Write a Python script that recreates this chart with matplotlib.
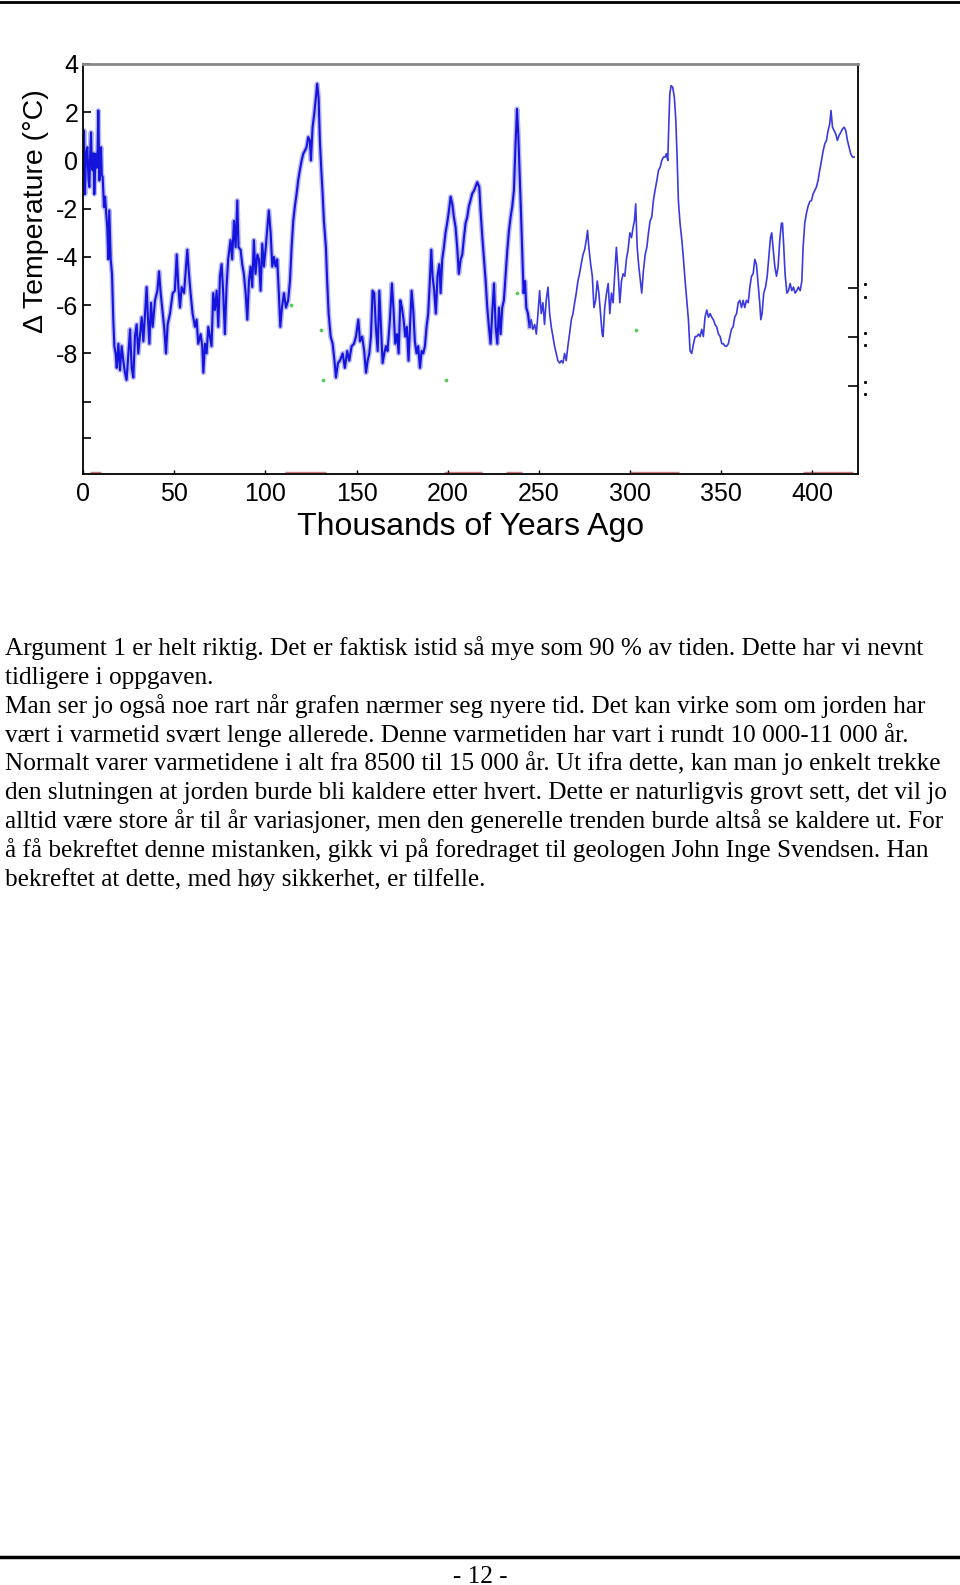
import matplotlib
matplotlib.use("Agg")
import matplotlib.pyplot as plt
from matplotlib.lines import Line2D

# Vostok-style temperature record (kyr ago, deg C)
age_kyr = [
    0.2, 0.55, 1.1, 1.7, 2.4, 3.0, 3.5, 4.0, 4.4, 4.8, 5.3, 5.8, 6.2, 6.6, 7.1, 7.6, 8.0, 8.4, 9.0, 9.4,
    9.9, 10.3, 10.8, 11.5, 12.1, 12.6, 13.3, 13.9, 14.4, 15.2, 15.9, 16.6, 17.2, 17.9, 18.5, 19.4, 20.3, 21.2,
    22.1, 23.0, 23.9, 24.9, 25.8, 26.7, 27.6, 28.5, 29.4, 30.3, 31.3, 32.2, 33.1, 34.0, 34.9, 35.5, 36.4,
    37.3, 38.2, 39.5, 40.8, 41.7, 42.6, 43.7, 44.6, 45.5, 46.4, 47.7, 49.2, 50.4, 51.4, 52.3, 53.2, 54.1,
    55.4, 56.5, 57.2, 58.1, 59.0, 60.1, 61.4, 62.3, 63.2, 64.5, 65.4, 66.0, 66.9, 67.8, 68.7,
    70.5, 71.4, 72.3, 73.3, 74.2, 75.1, 76.0, 76.9, 77.8, 78.7, 79.6, 80.9, 81.8, 82.8, 83.7, 84.6, 85.3,
    86.4, 87.3, 88.2, 89.2, 90.1, 91.0, 91.9, 92.8, 93.7, 94.6, 95.6, 96.5, 97.4, 98.3, 99.2, 100.1, 101.0,
    101.9, 102.9, 103.8, 104.7, 105.6, 106.5, 107.4, 108.2, 109.1, 110.2, 111.3, 112.5, 113.5, 114.4, 115.3,
    116.2, 117.1, 118.0, 118.9, 119.9, 120.8, 121.7, 122.6, 123.5, 124.4, 125.0, 125.9, 126.8, 127.7, 128.4,
    129.2, 129.9, 130.6, 131.4, 132.1, 133.2, 133.9, 134.7, 135.8, 136.9, 137.9, 138.7, 139.8,
    140.9, 142.4, 143.6, 144.9, 146.0, 147.3, 148.6, 149.7, 151.0, 151.9, 153.1, 154.2, 155.2, 156.1, 157.0,
    157.9, 158.8, 159.7, 160.6, 161.6, 162.5, 163.4, 164.3, 165.2, 166.1, 167.0, 168.3, 169.4, 170.3, 171.2,
    172.2, 173.1, 174.0, 174.9, 175.8, 176.7, 177.6, 178.5, 179.5, 180.2, 181.1, 182.0, 182.9, 183.8, 184.8,
    185.7, 186.6, 187.5, 188.4, 189.3, 190.2, 191.0, 191.7, 192.6, 193.5, 194.4, 195.4, 196.1, 197.0, 197.9,
    198.8, 199.7, 200.7, 201.6, 202.5, 203.4, 204.3, 205.2, 206.1, 207.1, 208.0, 208.9, 209.8, 210.7, 211.6,
    212.5, 213.4, 214.5,
    216.2, 217.3, 218.0, 219.0, 219.9, 220.8, 221.7, 222.6, 223.5, 224.4, 225.4, 226.3, 227.2, 228.1, 229.0,
    229.9, 230.8, 231.8, 232.7, 233.6, 234.5, 235.4, 236.3, 237.2, 238.0, 238.7, 239.4, 240.2, 240.9, 241.6,
    242.4, 243.1, 244.0, 244.9, 245.8, 246.7, 247.7, 248.6, 249.5, 250.4, 251.3, 252.2, 253.1, 254.0, 255.0,
    255.9, 256.8, 257.7, 258.6, 259.5, 260.4, 261.4, 262.3, 263.2, 264.1, 265.0, 265.9, 266.8, 267.8, 268.7,
    269.6, 270.5, 271.4, 272.3, 273.2, 274.2, 275.1, 276.0, 276.7, 277.4, 278.4, 279.3, 280.2, 281.1, 282.0,
    282.9, 283.8, 284.7,
    285.2, 286.1, 287.1, 288.0, 288.9, 289.8, 290.7, 291.6, 292.5, 293.5, 294.4, 295.3, 296.2, 297.1, 298.0,
    298.9, 299.9, 300.8, 301.7, 302.4, 303.1, 303.9, 304.8, 305.7, 306.4, 307.3, 308.3, 309.2, 310.1, 311.0,
    311.9, 312.8, 313.7, 314.7, 315.6, 316.5, 317.4, 318.3, 319.2, 319.9, 320.7, 321.2, 321.8, 322.5, 323.4,
    324.3, 325.1, 325.8, 326.5, 327.4, 328.4, 329.3, 330.2, 331.1, 332.0, 332.9, 333.8, 334.8, 335.7, 336.6,
    337.5, 338.4, 339.3, 340.2, 341.1, 342.1, 343.0, 343.9, 344.8, 345.7, 346.6, 347.5, 348.5, 349.4, 350.3,
    351.2, 352.1, 353.0, 353.9,
    355.6, 356.5, 357.4, 358.4, 359.3, 360.2, 361.1, 362.0, 362.9, 363.8, 364.8, 365.7, 366.6, 367.5, 368.4,
    369.3, 370.2, 371.1, 371.7, 372.4, 373.3, 374.3, 375.2, 376.1, 377.0, 377.7, 378.5, 379.4, 380.3, 381.2,
    382.1, 383.0, 383.6, 384.3, 385.0, 386.0, 386.9, 387.8, 388.7, 389.6, 390.5, 391.4, 392.3, 393.3, 394.2,
    394.9, 395.8, 396.7, 397.6, 398.6, 399.5, 400.4, 401.3, 402.2, 403.1, 404.0, 405.0, 405.9, 406.8, 407.7,
    408.6, 409.5, 410.2, 411.0, 411.9, 412.8, 413.7, 414.6, 415.6, 416.5, 417.4, 418.3, 419.2, 420.1, 421.0,
    422.0, 422.9,
]
dtemp = [
    -0.4, 1.24, -1.4, 0.3, 0.55, -0.8, -1.1, 0.4, 1.17, -0.2, -0.41, 0.3, -1.4, -0.5, 0.28, -0.3, 0.4, 2.07, -0.83, 0.2,
    0.55, -0.6, -0.69, -1.93, -1.5, -2.07, -2.76, -4.1, -2.07, -4.1, -4.7, -6.6, -7.7, -8.0, -8.6, -7.6, -8.7, -7.7,
    -8.3, -8.8, -9.1, -8.0, -7.0, -8.6, -9.0, -7.3, -6.8, -8.0, -7.2, -6.5, -7.5, -6.35, -5.25, -6.35, -7.6,
    -5.9, -6.9, -5.8, -5.4, -4.6, -5.5, -6.35, -7.0, -8.0, -6.8, -6.35, -5.5, -5.4, -3.9, -5.25, -6.1, -5.25,
    -5.5, -4.4, -3.7, -4.7, -5.5, -6.35, -6.9, -6.6, -7.6, -7.2, -7.7, -8.8, -7.6, -8.0, -6.9,
    -7.7, -5.5, -6.2, -5.4, -6.9, -4.8, -4.3, -5.5, -7.2, -5.25, -4.1, -3.3, -4.1, -2.5, -3.6, -1.66, -3.6,
    -3.7, -4.3, -4.7, -5.5, -6.6, -5.0, -4.4, -5.25, -3.3, -4.7, -3.9, -4.1, -5.4, -3.45, -4.4, -3.7, -2.9,
    -2.07, -3.0, -4.4, -4.0, -4.4, -4.1, -5.5, -6.9, -6.1, -5.5, -6.1, -5.8, -5.0, -3.6, -2.5,
    -1.9, -1.4, -0.83, -0.41, 0.0, 0.28, 0.41, 0.55, 0.97, 0.83, 0.0, 1.38, 1.93, 2.6, 3.18,
    2.6, 0.83, -0.28, -1.38, -2.5, -3.6, -5.0, -6.35, -7.3, -7.6, -8.3, -9.0, -8.4,
    -8.3, -8.0, -8.6, -7.9, -8.3, -7.7, -7.6, -7.3, -6.6, -7.5, -7.3, -7.9, -8.8, -8.3, -8.0,
    -7.3, -5.4, -5.5, -6.9, -7.9, -5.4, -6.9, -8.4, -8.0, -7.7, -7.9, -6.6, -5.1, -6.2, -7.6,
    -7.2, -8.0, -5.8, -6.1, -6.6, -7.3, -6.9, -8.3, -6.6, -5.4, -6.2, -7.5, -8.0, -7.7, -8.6,
    -7.9, -8.0, -7.7, -6.9, -6.35, -5.0, -3.7, -4.8, -5.4, -6.35, -4.8, -4.3, -5.5, -4.1, -3.6,
    -3.0, -2.6, -2.07, -1.5, -1.8, -2.35, -2.76, -3.6, -4.7, -4.1, -3.9, -3.2, -2.6, -2.35, -1.9,
    -1.66, -1.38, -1.24,
    -0.9, -1.1, -2.07, -3.2, -4.1, -5.0, -6.1, -6.9, -7.6, -6.35, -5.1, -6.9, -7.6, -6.1, -7.2,
    -6.1, -5.8, -4.7, -3.7, -2.9, -2.35, -1.9, -1.24, 0.69, 2.14, 1.1, -0.41, -2.2, -3.9, -5.5,
    -5.0, -6.1, -6.35, -6.9, -6.6, -7.0, -6.8, -7.2, -6.35, -5.4, -6.35, -5.9, -6.8, -5.8, -5.25,
    -6.35, -6.9, -7.3, -7.7, -8.0, -8.3, -8.4, -8.3, -8.4, -8.0, -8.3, -7.7, -7.2, -6.6, -6.35,
    -5.9, -5.5, -5.0, -4.7, -4.3, -3.9, -3.7, -3.3, -2.9, -3.6, -4.3, -4.8, -6.1, -5.8, -5.0,
    -5.5, -6.35, -7.2,
    -7.3, -6.1, -5.5, -5.1, -6.35, -5.5, -5.9, -4.7, -3.6, -4.7, -5.9, -5.0, -4.7, -4.8, -4.1,
    -3.7, -3.0, -3.2, -2.76, -2.5, -1.8, -3.6, -4.4, -5.0, -5.5, -4.6, -3.9, -3.6, -3.0, -2.5,
    -2.35, -1.66, -1.24, -0.83, -0.41, -0.28, 0.0, 0.14, 0.14, 0.28, 0.0, 1.38, 2.76, 3.1, 3.04,
    2.6, 1.66, 0.14, -1.66, -2.6, -3.3, -4.1, -5.0, -5.8, -6.6, -7.9, -8.0, -7.6, -7.3, -7.3,
    -7.2, -7.3, -7.0, -7.3, -6.5, -6.2, -6.5, -6.35, -6.5, -6.6, -6.8, -6.9, -7.2, -7.3, -7.6,
    -7.6, -7.7, -7.7, -7.6,
    -7.0, -6.9, -6.5, -6.35, -5.9, -5.8, -6.1, -5.8, -6.1, -5.8, -5.9, -5.25, -4.8, -4.7, -4.1,
    -4.3, -5.1, -5.9, -6.6, -6.35, -5.5, -5.25, -4.8, -4.0, -3.2, -3.0, -3.7, -4.4, -4.8, -4.4,
    -3.3, -2.6, -2.6, -3.6, -4.7, -5.5, -5.4, -5.1, -5.4, -5.25, -5.5, -5.4, -5.25, -5.4, -5.0,
    -3.6, -2.6, -2.2, -1.9, -1.7, -1.66, -1.38, -1.24, -1.1, -0.83, -0.41, 0.0, 0.41, 0.69, 0.83,
    1.24, 1.52, 2.07, 1.38, 1.24, 1.1, 0.83, 1.04, 1.17, 1.31, 1.38, 1.24, 0.83, 0.55, 0.28,
    0.14, 0.14,
]

# stray green points and the clipped red trace along the bottom
green_age = [114, 130.5, 131.5, 199, 238, 303]
green_temp = [-6.0, -7.05, -9.1, -9.1, -5.5, -7.05]
red_start = [4, 111, 198, 232, 300, 395]
red_end = [10, 133, 219, 241, 327, 422]

x_ticks = [0, 50, 100, 150, 200, 250, 300, 350, 400]
y_ticks = [4, 2, 0, -2, -4, -6, -8, -10, -11.5]
y_ticklabels = ["4", "2", "0", "-2", "-4", "-6", "-8", "", ""]
right_ticks = [-5.3, -7.33, -9.37]
right_dots = [-5.14, -5.68, -7.17, -7.67, -9.2, -9.7]

paragraph = [
    "Argument 1 er helt riktig. Det er faktisk istid så mye som 90 % av tiden. Dette har vi nevnt",
    "tidligere i oppgaven.",
    "Man ser jo også noe rart når grafen nærmer seg nyere tid. Det kan virke som om jorden har",
    "vært i varmetid svært lenge allerede. Denne varmetiden har vart i rundt 10 000-11 000 år.",
    "Normalt varer varmetidene i alt fra 8500 til 15 000 år. Ut ifra dette, kan man jo enkelt trekke",
    "den slutningen at jorden burde bli kaldere etter hvert. Dette er naturligvis grovt sett, det vil jo",
    "alltid være store år til år variasjoner, men den generelle trenden burde altså se kaldere ut. For",
    "å få bekreftet denne mistanken, gikk vi på foredraget til geologen John Inge Svendsen. Han",
    "bekreftet at dette, med høy sikkerhet, er tilfelle.",
]

W, H = 960, 1585
sans = "Liberation Sans"
serif = "Liberation Serif"
body_size = 18.2

fig = plt.figure(figsize=(W / 100, H / 100), dpi=100)
ax = fig.add_axes([83 / W, 1 - 474 / H, 775 / W, 410 / H])

# the older, high-resolution part of the record reads as a thick fuzzy band
n_dense = sum(1 for a in age_kyr if a < 245)
ax.plot(age_kyr[:n_dense], dtemp[:n_dense], color="#7f7ff0", lw=3.6, alpha=0.55,
        solid_joinstyle="round")
ax.plot(age_kyr[:n_dense], dtemp[:n_dense], color="#1414dc", lw=1.5)
ax.plot(age_kyr[n_dense - 1:], dtemp[n_dense - 1:], color="#3a3ae0", lw=1.2)
ax.scatter(green_age, green_temp, s=3, color="#33bb33", alpha=0.7, zorder=3)
ax.hlines([-12.92] * len(red_start), red_start, red_end, color="#a01818", lw=1.0, alpha=0.55)

ax.set_xlim(0, 425)
ax.set_ylim(-13.0, 4.0)
ax.set_xticks(x_ticks)
ax.set_xticklabels([str(t) for t in x_ticks], family=sans, fontsize=18)
ax.set_yticks(y_ticks)
ax.set_yticklabels(y_ticklabels, family=sans, fontsize=18)
ax.tick_params(axis="y", direction="in", length=6, width=1.2, pad=3.5)
ax.tick_params(axis="x", direction="in", length=3, width=1.0, pad=6)

for side in ["left", "bottom", "right"]:
    ax.spines[side].set_linewidth(1.3)
ax.spines["top"].set_color("#8a8a8a")
ax.spines["top"].set_linewidth(2)

ax2 = ax.twinx()
ax2.set_ylim(ax.get_ylim())
ax2.set_yticks(right_ticks)
ax2.tick_params(direction="in", length=7, width=1.2, labelright=False)
for s in ax2.spines.values():
    s.set_visible(False)
ax2.plot([428.7] * len(right_dots), right_dots, "s", ms=1.1, color="black", clip_on=False)

fig.text(36 / W, 1 - 211.5 / H, "Δ Temperature (°C)", rotation=90, ha="center", va="center",
         family=sans, fontsize=20.5)
fig.text(471 / W, 1 - 527 / H, "Thousands of Years Ago", ha="center", va="center",
         family=sans, fontsize=23)

# body text of the page
for i, line in enumerate(paragraph):
    fig.text(5 / W, 1 - (655 + i * 28.85) / H, line, ha="left", va="baseline",
             family=serif, fontsize=body_size)

fig.add_artist(Line2D([0, 1], [1 - 1.5 / H] * 2, transform=fig.transFigure, color="black", lw=2))
fig.add_artist(Line2D([0, 1], [1 - 1557 / H] * 2, transform=fig.transFigure, color="black", lw=2.5))
fig.text(0.5, 1 - 1577 / H, "- 12 -", ha="center", va="center", family=serif, fontsize=body_size)

fig.savefig("out.png", dpi=100)
